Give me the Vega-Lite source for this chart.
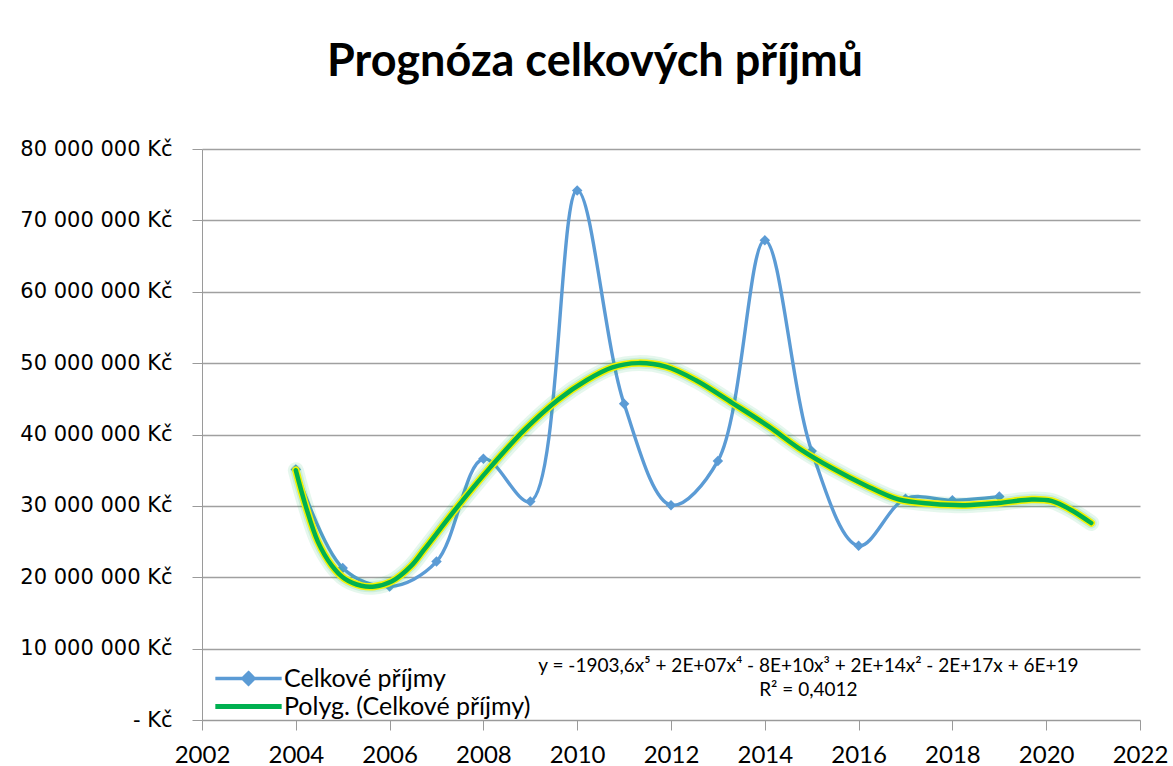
{
  "$schema": "https://vega.github.io/schema/vega-lite/v6.json",
  "width": 938,
  "height": 571,
  "autosize": {"type": "none"},
  "padding": {"left": 202, "top": 149, "right": 33, "bottom": 46},
  "background": "white",
  "config": {
    "locale": {"number": {"decimal": ",", "thousands": " ", "grouping": [3], "currency": ["", " Kč"]}},
    "font": "Lato",
    "view": {"stroke": null},
    "axis": {"labelColor": "#000000", "domainColor": "#9A9A9A", "tickColor": "#9A9A9A", "tickSize": 10, "title": null}
  },
  "title": {"text": "Prognóza celkových příjmů", "font": "Lato", "fontSize": 45, "fontWeight": "bold", "color": "#000000", "anchor": "middle", "dx": -76, "offset": 53},
  "datasets": {
    "obs": [
      {"year": 2004, "value": 35100000, "series": "Celkové příjmy"},
      {"year": 2005, "value": 21300000, "series": "Celkové příjmy"},
      {"year": 2006, "value": 18700000, "series": "Celkové příjmy"},
      {"year": 2007, "value": 22200000, "series": "Celkové příjmy"},
      {"year": 2008, "value": 36600000, "series": "Celkové příjmy"},
      {"year": 2009, "value": 30600000, "series": "Celkové příjmy"},
      {"year": 2010, "value": 74200000, "series": "Celkové příjmy"},
      {"year": 2011, "value": 44300000, "series": "Celkové příjmy"},
      {"year": 2012, "value": 30100000, "series": "Celkové příjmy"},
      {"year": 2013, "value": 36300000, "series": "Celkové příjmy"},
      {"year": 2014, "value": 67200000, "series": "Celkové příjmy"},
      {"year": 2015, "value": 37700000, "series": "Celkové příjmy"},
      {"year": 2016, "value": 24400000, "series": "Celkové příjmy"},
      {"year": 2017, "value": 31000000, "series": "Celkové příjmy"},
      {"year": 2018, "value": 30800000, "series": "Celkové příjmy"},
      {"year": 2019, "value": 31300000, "series": "Celkové příjmy"}
    ],
    "trend": [
      {"year": 2004.0, "value": 35000000, "series": "Polyg. (Celkové příjmy)"},
      {"year": 2004.21, "value": 30000000, "series": "Polyg. (Celkové příjmy)"},
      {"year": 2004.47, "value": 25000000, "series": "Polyg. (Celkové příjmy)"},
      {"year": 2004.76, "value": 21700000, "series": "Polyg. (Celkové příjmy)"},
      {"year": 2005.04, "value": 19800000, "series": "Polyg. (Celkové příjmy)"},
      {"year": 2005.4, "value": 18800000, "series": "Polyg. (Celkové příjmy)"},
      {"year": 2005.68, "value": 18700000, "series": "Polyg. (Celkové příjmy)"},
      {"year": 2006.04, "value": 19400000, "series": "Polyg. (Celkové příjmy)"},
      {"year": 2006.46, "value": 21600000, "series": "Polyg. (Celkové příjmy)"},
      {"year": 2006.74, "value": 23900000, "series": "Polyg. (Celkové příjmy)"},
      {"year": 2007.45, "value": 29900000, "series": "Polyg. (Celkové příjmy)"},
      {"year": 2008.16, "value": 35500000, "series": "Polyg. (Celkové příjmy)"},
      {"year": 2008.87, "value": 40600000, "series": "Polyg. (Celkové příjmy)"},
      {"year": 2009.58, "value": 44800000, "series": "Polyg. (Celkové příjmy)"},
      {"year": 2010.2, "value": 47600000, "series": "Polyg. (Celkové příjmy)"},
      {"year": 2010.75, "value": 49400000, "series": "Polyg. (Celkové příjmy)"},
      {"year": 2011.3, "value": 50000000, "series": "Polyg. (Celkové příjmy)"},
      {"year": 2011.89, "value": 49500000, "series": "Polyg. (Celkové příjmy)"},
      {"year": 2012.53, "value": 47600000, "series": "Polyg. (Celkové příjmy)"},
      {"year": 2013.31, "value": 44400000, "series": "Polyg. (Celkové příjmy)"},
      {"year": 2014.09, "value": 41100000, "series": "Polyg. (Celkové příjmy)"},
      {"year": 2014.72, "value": 38100000, "series": "Polyg. (Celkové příjmy)"},
      {"year": 2015.43, "value": 35300000, "series": "Polyg. (Celkové příjmy)"},
      {"year": 2016.14, "value": 32900000, "series": "Polyg. (Celkové příjmy)"},
      {"year": 2016.85, "value": 30900000, "series": "Polyg. (Celkové příjmy)"},
      {"year": 2017.56, "value": 30300000, "series": "Polyg. (Celkové příjmy)"},
      {"year": 2018.27, "value": 30100000, "series": "Polyg. (Celkové příjmy)"},
      {"year": 2018.98, "value": 30400000, "series": "Polyg. (Celkové příjmy)"},
      {"year": 2019.69, "value": 30900000, "series": "Polyg. (Celkové příjmy)"},
      {"year": 2020.11, "value": 30700000, "series": "Polyg. (Celkové příjmy)"},
      {"year": 2020.54, "value": 29400000, "series": "Polyg. (Celkové příjmy)"},
      {"year": 2020.96, "value": 27600000, "series": "Polyg. (Celkové příjmy)"}
    ],
    "notes": [
      {"label": "y = -1903,6x⁵ + 2E+07x⁴ - 8E+10x³ + 2E+14x² - 2E+17x + 6E+19"}
    ],
    "notes2": [
      {"label": "R² = 0,4012"}
    ]
  },
  "layer": [
    {
      "data": {"name": "obs"},
      "mark": {"type": "line", "interpolate": "catmull-rom", "strokeWidth": 3.4},
      "encoding": {
        "x": {"field": "year", "type": "quantitative", "scale": {"domain": [2002, 2022], "nice": false, "zero": false},
          "axis": {"values": [2002, 2004, 2006, 2008, 2010, 2012, 2014, 2016, 2018, 2020, 2022], "format": "d", "grid": false, "labelFont": "Lato", "labelFontSize": 24, "labelPadding": 13, "labelFlush": false}},
        "y": {"field": "value", "type": "quantitative", "scale": {"domain": [0, 80000000], "nice": false},
          "axis": {"values": [0, 10000000, 20000000, 30000000, 40000000, 50000000, 60000000, 70000000, 80000000], "format": ",d", "labelExpr": "datum.value == 0 ? '- Kč' : datum.label + ' Kč'", "grid": true, "gridColor": "#A0A0A0", "gridWidth": 1.3, "labelFont": "DejaVu Sans", "labelFontSize": 21, "labelPadding": 20, "labelFlush": false}},
        "color": {"field": "series", "type": "nominal",
          "scale": {"domain": ["Celkové příjmy", "Polyg. (Celkové příjmy)"], "range": ["#5B9BD5", "#00B050"]},
          "legend": {"title": null, "orient": "none", "legendX": 34, "legendY": 517, "labelFontSize": 25, "labelFont": "Lato", "labelColor": "#000000", "labelLimit": 500, "symbolSize": 4400, "rowPadding": 2, "labelOffset": 23,
            "encode": {"symbols": {"update": {
              "shape": {"signal": "datum.value === 'Celkové příjmy' ? 'M-1,0H1M0,-0.17L0.17,0L0,0.17L-0.17,0Z' : 'M-1,0H1'"},
              "fill": {"signal": "datum.value === 'Celkové příjmy' ? '#5B9BD5' : 'transparent'"},
              "strokeWidth": {"signal": "datum.value === 'Celkové příjmy' ? 3.5 : 5"},
              "opacity": {"value": 1}
            }}}}
        }
      }
    },
    {
      "data": {"name": "obs"},
      "mark": {"type": "point", "shape": "diamond", "filled": true, "size": 110, "color": "#5B9BD5", "opacity": 1},
      "encoding": {
        "x": {"field": "year", "type": "quantitative"},
        "y": {"field": "value", "type": "quantitative"}
      }
    },
    {
      "data": {"name": "trend"},
      "mark": {"type": "line", "interpolate": "catmull-rom", "stroke": "#00B050", "strokeWidth": 16, "opacity": 0.1, "strokeCap": "round"},
      "encoding": {
        "x": {"field": "year", "type": "quantitative"},
        "y": {"field": "value", "type": "quantitative"}
      }
    },
    {
      "data": {"name": "trend"},
      "mark": {"type": "line", "interpolate": "catmull-rom", "stroke": "#00B050", "strokeWidth": 11, "opacity": 0.12, "strokeCap": "round"},
      "encoding": {
        "x": {"field": "year", "type": "quantitative"},
        "y": {"field": "value", "type": "quantitative"}
      }
    },
    {
      "data": {"name": "trend"},
      "mark": {"type": "line", "interpolate": "catmull-rom", "stroke": "#F2F200", "strokeWidth": 7.5, "strokeCap": "round"},
      "encoding": {
        "x": {"field": "year", "type": "quantitative"},
        "y": {"field": "value", "type": "quantitative"}
      }
    },
    {
      "data": {"name": "trend"},
      "mark": {"type": "line", "interpolate": "catmull-rom", "strokeWidth": 4.5, "strokeCap": "round"},
      "encoding": {
        "x": {"field": "year", "type": "quantitative"},
        "y": {"field": "value", "type": "quantitative"},
        "color": {"field": "series", "type": "nominal"}
      }
    },
    {
      "data": {"name": "notes"},
      "mark": {"type": "text", "font": "Lato", "fontSize": 19, "fill": "#000000", "align": "center", "baseline": "middle"},
      "encoding": {
        "x": {"datum": 2014.93, "type": "quantitative"},
        "y": {"datum": 7600000, "type": "quantitative"},
        "text": {"field": "label", "type": "nominal"}
      }
    },
    {
      "data": {"name": "notes2"},
      "mark": {"type": "text", "font": "Lato", "fontSize": 19, "fill": "#000000", "align": "center", "baseline": "middle"},
      "encoding": {
        "x": {"datum": 2014.93, "type": "quantitative"},
        "y": {"datum": 4200000, "type": "quantitative"},
        "text": {"field": "label", "type": "nominal"}
      }
    }
  ]
}
